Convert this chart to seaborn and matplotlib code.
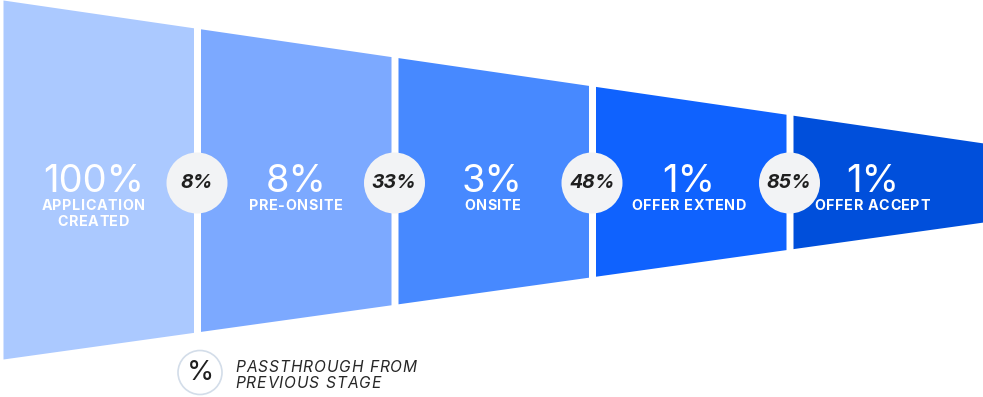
import matplotlib
matplotlib.use("Agg")
import matplotlib.pyplot as plt
from matplotlib.patches import Circle
from matplotlib.font_manager import FontProperties
from matplotlib.textpath import TextToPath
import seaborn as sns

# ---- data ----
stage_names = ["APPLICATION\nCREATED", "PRE-ONSITE", "ONSITE", "OFFER EXTEND", "OFFER ACCEPT"]
stage_pct = ["100%", "8%", "3%", "1%", "1%"]
passthrough = ["8%", "33%", "48%", "85%"]
stage_colors = ["#abc9ff", "#7ca9ff", "#4789ff", "#0f62fe", "#004fdb"]
legend_label = "PASSTHROUGH FROM\nPREVIOUS STAGE"

sns.set_theme(style="white")
plt.rcParams['font.family'] = ['Inter', 'DejaVu Sans']

DPI = 100
W, H = 983, 397
fig = plt.figure(figsize=(W / DPI, H / DPI), dpi=DPI)
ax = fig.add_axes([0, 0, 1, 1])
ax.set_xlim(0, W)
ax.set_ylim(H, 0)
ax.axis("off")

_t2p = TextToPath()


def tracked_text(x, y0, s, size, tracking, line_step, ha="center",
                 weight="normal", style="normal", color="white", zorder=5):
    """Draw text with extra letter spacing (pixels). y0 = first baseline."""
    prop = FontProperties(family="Inter", size=size, weight=weight, style=style)
    for k, line in enumerate(s.split("\n")):
        widths = []
        for ch in line:
            w, _, _ = _t2p.get_text_width_height_descent(ch, prop, ismath=False)
            widths.append(w * DPI / 72.0)
        total = sum(widths) + tracking * (len(line) - 1)
        cx = x - total / 2 if ha == "center" else x
        yb = y0 + k * line_step
        for ch, w in zip(line, widths):
            ax.text(cx, yb, ch, ha="left", va="baseline", fontproperties=prop,
                    color=color, zorder=zorder)
            cx += w + tracking


# funnel geometry (pixels)
left, right = 3.0, 983.5
top_l, top_r = 0.0, 143.0
bot_l, bot_r = 359.0, 222.0
gap = 7.0
n = len(stage_names)
seg_w = (right - left - gap * (n - 1)) / n
label_dx = [-5, 0, -1, -2, -16]


def top(x):
    return top_l + (top_r - top_l) * (x - left) / (right - left)


def bot(x):
    return bot_l + (bot_r - bot_l) * (x - left) / (right - left)


cy = 182
for i in range(n):
    x0 = left + i * (seg_w + gap)
    x1 = x0 + seg_w
    ax.fill_between([x0, x1], [top(x0), top(x1)], [bot(x0), bot(x1)],
                    color=stage_colors[i], linewidth=0)
    xc = (x0 + x1) / 2 + label_dx[i]
    ax.text(xc, 192, stage_pct[i], ha="center", va="baseline",
            fontsize=27.5, fontweight="normal", color="white")
    tracked_text(xc, 210, stage_names[i], 10.3, 0.6, 16, weight="bold")

# passthrough circles
for i, p in enumerate(passthrough):
    xg = left + (i + 1) * seg_w + i * gap + gap / 2
    ax.add_patch(Circle((xg, cy + 1), 30.5, facecolor="#f2f3f5", edgecolor="none", zorder=3))
    ax.text(xg, cy + 1.5, p, ha="center", va="center", fontsize=14,
            fontweight="bold", fontstyle="italic", color="#1f1f1f", zorder=4)

# legend
ax.add_patch(Circle((200, 372.5), 22, facecolor="white", edgecolor="#d3dde9", linewidth=1.2, zorder=3))
ax.text(201, 373, "%", ha="center", va="center", fontsize=20,
        color="#1f1f1f", zorder=4)
tracked_text(235, 372, legend_label, 11.2, 0.9, 16, ha="left",
             style="italic", color="#262626")

fig.savefig("out.png", dpi=DPI)
